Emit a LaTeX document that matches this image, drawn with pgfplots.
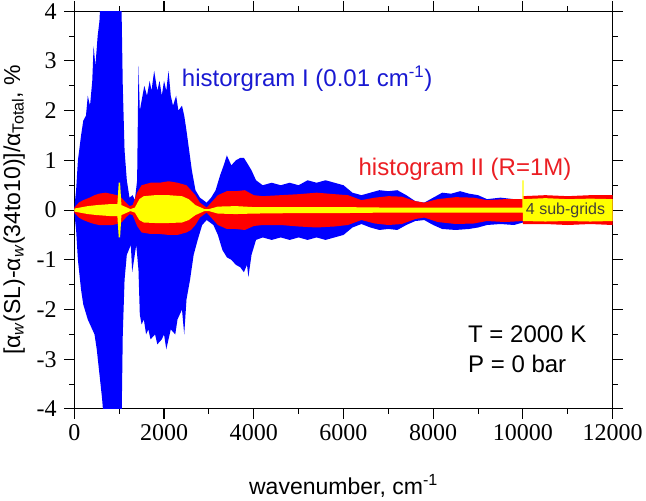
\documentclass[border=0pt]{standalone}
\usepackage{fontspec}
\setmainfont{Liberation Sans}
\newfontfamily\tickfont{Liberation Serif}
\usepackage{pgfplots}
\pgfplotsset{compat=1.18}

\definecolor{hblue}{RGB}{0,0,255}
\definecolor{hred}{RGB}{255,0,0}
\definecolor{hyel}{RGB}{255,255,0}
\definecolor{tblue}{RGB}{25,25,210}
\definecolor{tred}{RGB}{235,30,35}

\begin{document}
\begin{tikzpicture}
\begin{axis}[
    scale only axis,
    width=536bp, height=396bp,
    xmin=0, xmax=12000, ymin=-4, ymax=4,
    xtick={0,2000,...,12000}, minor x tick num=1,
    ytick={-4,...,4}, minor y tick num=1,
    tick align=outside,
    major tick length=10bp, minor tick length=5bp,
    axis line style={line width=1.1pt},
    every tick/.style={line width=1.1pt, black},
    scaled x ticks=false,
    /pgf/number format/assume math mode=true,
    /pgf/number format/set thousands separator={},
    xticklabel={\tickfont\fontsize{24}{24}\selectfont\pgfmathprintnumber{\tick}},
    yticklabel={\tickfont\fontsize{24}{24}\selectfont\pgfmathprintnumber{\tick}},
    xticklabel style={yshift=-2bp},
    yticklabel style={xshift=-4bp},
    xlabel={wavenumber, cm\textsuperscript{-1}},
    ylabel={[α\textsubscript{\textit{w}}(SL)-α\textsubscript{\textit{w}}(34to10)]/α\textsubscript{Total}, \%},
    every axis x label/.style={at={(axis description cs:0.5,0)}, yshift=-85bp, anchor=base,
      font=\fontsize{23}{23}\selectfont},
    every axis y label/.style={at={(axis description cs:0,0.5)}, xshift=-60bp, rotate=90,
      anchor=center, font=\fontsize{23}{23}\selectfont},
    clip=true,
  ]
  % histogram I (blue envelope)
  \addplot[fill=hblue, draw=none] coordinates {
    (0,0.05) (40,0.4) (80,1.0) (150,1.5) (200,1.8) (260,1.9) (300,2.3) (350,2.1)
    (400,2.6) (430,3.3) (470,2.9) (520,3.5) (560,3.8) (600,4.5) (1000,4.5)
    (1050,4.2) (1080,2.5) (1120,1.2) (1170,0.6) (1230,0.25) (1300,0.3) (1350,0.2)
    (1400,0.6) (1430,2.9) (1460,2.0) (1500,2.2) (1560,2.5) (1620,2.3) (1680,2.6)
    (1720,2.4) (1780,2.8) (1850,2.4) (1900,2.6) (1950,2.3) (2000,2.6) (2050,2.4)
    (2100,2.8) (2150,2.3) (2200,2.1) (2270,2.3) (2320,2.0) (2400,2.1) (2450,1.9)
    (2500,1.6) (2560,1.2) (2620,0.8) (2700,0.4) (2800,0.25) (2950,0.15) (3050,0.25)
    (3150,0.4) (3250,0.7) (3330,0.9) (3400,1.1) (3500,0.9) (3600,1.0) (3700,1.05)
    (3780,1.05) (3850,0.95) (3950,0.8) (4050,0.6) (4200,0.5) (4400,0.55) (4600,0.5)
    (4800,0.55) (5000,0.5) (5200,0.6) (5400,0.55) (5600,0.6) (5800,0.55) (6000,0.5)
    (6200,0.35) (6400,0.3) (6600,0.35) (6800,0.4) (7000,0.38) (7200,0.4) (7400,0.3)
    (7600,0.18) (7800,0.15) (8000,0.25) (8200,0.35) (8400,0.33) (8600,0.38)
    (8800,0.33) (9000,0.3) (9200,0.22) (9500,0.25) (9800,0.22) (10000,0.2)
    (10000,-0.25) (9800,-0.3) (9500,-0.28) (9200,-0.3) (9000,-0.35) (8800,-0.38)
    (8500,-0.4) (8200,-0.38) (8000,-0.3) (7800,-0.2) (7600,-0.22) (7400,-0.3)
    (7200,-0.4) (7000,-0.38) (6800,-0.4) (6600,-0.35) (6400,-0.28) (6200,-0.35)
    (6000,-0.5) (5800,-0.55) (5600,-0.6) (5400,-0.55) (5200,-0.6) (5000,-0.55)
    (4800,-0.6) (4600,-0.55) (4400,-0.6) (4200,-0.55) (4050,-0.6) (3950,-0.9)
    (3880,-1.35) (3850,-1.1) (3780,-1.25) (3700,-1.15) (3600,-1.1) (3500,-1.0)
    (3400,-0.95) (3300,-0.8) (3200,-0.5) (3100,-0.3) (2950,-0.2) (2850,-0.3)
    (2750,-0.6) (2660,-0.9) (2580,-1.4) (2500,-1.8) (2450,-2.5) (2400,-2.0)
    (2300,-2.2) (2250,-2.5) (2150,-2.4) (2100,-2.6) (2050,-2.8) (2000,-2.5)
    (1950,-2.6) (1850,-2.7) (1800,-2.5) (1700,-2.6) (1650,-2.4) (1600,-2.5)
    (1550,-2.2) (1500,-2.3) (1460,-2.1) (1430,-1.2) (1380,-0.7) (1290,-1.25)
    (1260,-0.7) (1170,-0.9) (1120,-1.4) (1080,-2.5) (1050,-4.5) (680,-4.5)
    (620,-3.8) (560,-3.3) (500,-2.8) (450,-2.5) (400,-2.4)
    (300,-2.2) (200,-1.9) (150,-1.6) (80,-1.0) (40,-0.4) (0,-0.05)
  };
  % histogram II (red envelope)
  \addplot[fill=hred, draw=none] coordinates {
    (0,0.05) (100,0.15) (200,0.2) (340,0.25) (450,0.3) (550,0.33) (700,0.35)
    (850,0.32) (950,0.3) (1050,0.25) (1150,0.15) (1230,0.08) (1300,0.1) (1400,0.35)
    (1500,0.5) (1700,0.55) (1900,0.55) (2100,0.58) (2300,0.55) (2500,0.5) (2600,0.4)
    (2700,0.3) (2800,0.15) (2950,0.05) (3050,0.15) (3200,0.3) (3400,0.38)
    (3600,0.38) (3800,0.4) (4000,0.3) (4200,0.28) (4600,0.3) (5000,0.32)
    (5400,0.35) (5800,0.32) (6100,0.3) (6400,0.2) (6700,0.25) (7000,0.28)
    (7300,0.27) (7600,0.18) (7800,0.15) (8100,0.22) (8500,0.26) (8900,0.25)
    (9200,0.2) (9600,0.22) (10000,0.22) (10000,0.28) (10500,0.3) (11000,0.28)
    (11500,0.3) (12000,0.3)
    (12000,-0.3) (11500,-0.28) (11000,-0.3) (10500,-0.28) (10000,-0.28)
    (10000,-0.22) (9600,-0.24) (9200,-0.22) (8900,-0.27) (8500,-0.28) (8100,-0.24)
    (7800,-0.15) (7600,-0.18) (7300,-0.28) (7000,-0.3) (6700,-0.27) (6400,-0.2)
    (6100,-0.3) (5800,-0.33) (5400,-0.35) (5000,-0.33) (4600,-0.3) (4200,-0.3)
    (4000,-0.32) (3800,-0.4) (3600,-0.38) (3400,-0.38) (3200,-0.3) (3050,-0.15)
    (2950,-0.05) (2800,-0.15) (2700,-0.3) (2600,-0.4) (2500,-0.45) (2300,-0.5)
    (2100,-0.5) (1900,-0.48) (1700,-0.48) (1500,-0.45) (1400,-0.32) (1300,-0.1)
    (1230,-0.08) (1150,-0.15) (1050,-0.25) (950,-0.28) (850,-0.3) (700,-0.3)
    (550,-0.3) (450,-0.28) (340,-0.25) (200,-0.2) (100,-0.15) (0,-0.05)
  };
  % 4 sub-grids (yellow envelope)
  \addplot[fill=hyel, draw=none] coordinates {
    (0,0.03) (300,0.08) (500,0.1) (800,0.12) (960,0.12) (990,0.55) (1020,0.55)
    (1050,0.1) (1150,0.06) (1250,0.02) (1350,0.05) (1450,0.22) (1550,0.28)
    (1800,0.3) (2100,0.3) (2400,0.28) (2550,0.22) (2700,0.1) (2900,0.02)
    (3000,0.02) (3200,0.07) (3600,0.08) (4000,0.06) (5000,0.06) (6000,0.06)
    (7000,0.05) (8000,0.05) (9000,0.05) (9985,0.05) (9985,0.6) (10015,0.6)
    (10015,0.22) (10500,0.24) (11000,0.22) (11500,0.23) (12000,0.22)
    (12000,-0.22) (11500,-0.23) (11000,-0.22) (10500,-0.23) (10000,-0.22)
    (10000,-0.05) (9000,-0.05) (8000,-0.05) (7000,-0.05) (6000,-0.06)
    (5000,-0.06) (4000,-0.07) (3600,-0.08) (3200,-0.07) (3000,-0.02)
    (2900,-0.02) (2700,-0.1) (2550,-0.2) (2400,-0.25) (2100,-0.26) (1800,-0.26)
    (1550,-0.25) (1450,-0.2) (1350,-0.05) (1250,-0.02) (1150,-0.06) (1050,-0.1)
    (1020,-0.55) (990,-0.55) (960,-0.12) (800,-0.12) (500,-0.1) (300,-0.08)
    (0,-0.03)
  };
  \node[tblue, font=\fontsize{24}{24}\selectfont] at (axis cs:5190,2.65)
    {historgram I (0.01 cm\textsuperscript{-1})};
  \node[tred, font=\fontsize{24}{24}\selectfont] at (axis cs:8710,0.83)
    {histogram II (R=1M)};
  \node[black!85!yellow, font=\fontsize{16}{16}\selectfont] at (axis cs:10950,0)
    {4 sub-grids};
  \node[anchor=west, align=left, font=\fontsize{24}{30}\selectfont]
    at (axis cs:8700,-2.8) {T = 2000 K\\P = 0 bar};
\end{axis}
\end{tikzpicture}
\end{document}
